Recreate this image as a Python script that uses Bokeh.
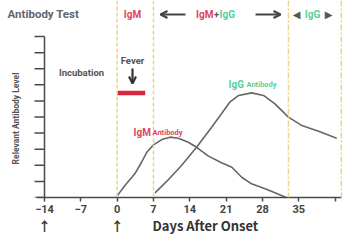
from bokeh.plotting import figure
from bokeh.models import Range1d, FixedTicker, Span, Label, Arrow, OpenHead, LinearAxis
from bokeh.embed import file_html
from bokeh.resources import INLINE

# ---------------- data ----------------
day_ticks = [-14, -7, 0, 7, 14, 21, 28, 35, 42]
day_tick_labels = ["\u221214", "\u22127", "0", "7", "14", "21", "28", "35", ""]
level_ticks = [0, 1, 2, 3, 4, 5, 6, 7, 8, 9, 10]

igm_day = [0.0, 1.5, 3.4, 4.7, 5.7, 7.0, 8.6, 10.2, 11.8, 13.7, 15.3, 17.6, 20.1,
           22.1, 24.0, 25.9, 28.5, 30.4, 32.0, 32.6]
igm_level = [0.1, 0.75, 1.47, 2.19, 2.81, 3.27, 3.60, 3.75, 3.68, 3.43, 3.12, 2.57,
             2.16, 1.88, 1.26, 0.85, 0.54, 0.29, 0.08, 0.0]

igg_day = [7.3, 9.9, 12.4, 15.3, 18.2, 20.1, 21.7, 23.4, 25.9, 28.2, 30.4, 33.0,
           35.6, 38.8, 42.3]
igg_level = [0.29, 1.12, 1.99, 3.12, 4.37, 5.20, 5.92, 6.34, 6.50, 6.34, 5.82, 4.99,
             4.47, 4.12, 3.68]

phase_bounds = [0, 7, 33, 43.2]
fever_start, fever_end, fever_level = 0.0, 5.4, 6.5
marker_days = [-14, 0]          # days marked with an arrow under the axis
axis_title_day = 17

# ---------------- styling ----------------
FONT = "Roboto"
RED = "#e2445c"
GREEN = "#58cf9a"
GRAY = "#555555"
AXIS = "#4a4a4a"
GOLD = "#ecd48a"

W, H = 356, 242
R, B = 13, 45
FW, FH = W - R, H - B          # frame size (frame starts at canvas left/top)
K = 5.19                       # px per day
Y_AXIS_PX = 44                 # where day -14 sits
X0 = -14 - Y_AXIS_PX / K
X1 = X0 + FW / K
Y0, Y1 = 0, 12.24


def sx(px):
    return X0 + px * (X1 - X0) / FW


def sy(py):
    return Y1 - py * (Y1 - Y0) / FH


p = figure(width=W, height=H, x_range=Range1d(X0, X1), y_range=Range1d(Y0, Y1),
           output_backend="svg", toolbar_location=None, x_axis_location=None,
           y_axis_location=None,
           min_border_left=0, min_border_right=R, min_border_top=0, min_border_bottom=B)
p.outline_line_color = None
p.grid.visible = False
p.background_fill_color = "white"
p.border_fill_color = "white"

# x axis
xa = LinearAxis()
xa.ticker = FixedTicker(ticks=day_ticks)
xa.major_label_overrides = {t: s for t, s in zip(day_ticks, day_tick_labels)}
xa.major_tick_out = 4
xa.major_tick_in = 0
xa.minor_tick_line_color = None
xa.axis_line_color = AXIS
xa.axis_line_width = 1.5
xa.major_tick_line_color = AXIS
xa.major_tick_line_width = 1.5
xa.major_label_text_font = FONT
xa.major_label_text_font_style = "bold"
xa.major_label_text_font_size = "11px"
xa.major_label_text_color = "#444444"
xa.major_label_standoff = 3
xa.bounds = (-15.5, phase_bounds[-1])
p.add_layout(xa, "below")

# second row under the axis: onset marker arrows and axis title
xa2 = LinearAxis()
xa2.ticker = FixedTicker(ticks=marker_days + [axis_title_day])
ov = {d: "\u2191" for d in marker_days}
ov[axis_title_day] = "Days After Onset"
xa2.major_label_overrides = ov
xa2.axis_line_color = None
xa2.major_tick_line_color = None
xa2.minor_tick_line_color = None
xa2.major_tick_out = 0
xa2.major_tick_in = 0
xa2.major_label_standoff = 0
xa2.major_label_text_font = "'Noto Sans CJK SC', Roboto"
xa2.major_label_text_font_style = "bold"
xa2.major_label_text_font_size = "13px"
xa2.major_label_text_color = "#333333"
p.add_layout(xa2, "below")

# y axis (unlabelled level scale) drawn through the y scale
tick_len = 10 / K
p.segment(x0=[-14], y0=[level_ticks[0]], x1=[-14], y1=[level_ticks[-1]],
          line_color=AXIS, line_width=1.5)
p.segment(x0=[-14 - tick_len] * len(level_ticks), y0=level_ticks,
          x1=[-14] * len(level_ticks), y1=level_ticks,
          line_color=AXIS, line_width=1.5)

# phase separators
for i, xb in enumerate(phase_bounds):
    p.add_layout(Span(location=xb, dimension="height", line_color=GOLD, line_width=1.5,
                      line_dash="4 2" if i < 2 else "6 2 2 2"))

# curves
p.line(igm_day, igm_level, line_color="#666666", line_width=1.6)
p.line(igg_day, igg_level, line_color="#666666", line_width=1.6)

# fever bar
p.segment(x0=[fever_start], y0=[fever_level], x1=[fever_end], y1=[fever_level],
          line_color="#d7263d", line_width=4.5, line_cap="butt")


def lab(text, px, py, size, color, align="center", baseline="middle", font=FONT,
        style="bold", angle=0.0):
    p.add_layout(Label(x=sx(px), y=sy(py), text=text, text_font=font,
                       text_font_style=style, text_font_size=f"{size}px",
                       text_color=color, text_align=align, text_baseline=baseline,
                       angle=angle))


def arrow(px0, py0, px1, py1, color="#444444", width=2.2, size=7):
    p.add_layout(Arrow(end=OpenHead(size=size, line_color=color, line_width=width),
                       x_start=sx(px0), y_start=sy(py0), x_end=sx(px1), y_end=sy(py1),
                       line_color=color, line_width=width))


# header texts
lab("Antibody Test", 7, 13, 11.5, "#5c6670", align="left")
lab("IgM", 132, 14, 10, RED)
arrow(185, 14, 160, 14)
lab("IgM", 213, 14, 10, RED, align="right")
lab("+", 216, 14, 9, GRAY)
lab("IgG", 219, 14, 10, GREEN, align="left")
arrow(255, 14, 280, 14)
lab("\u25c0", 296, 14, 10, GRAY, font="DejaVu Sans", style="normal")
lab("IgG", 312, 14, 10, GREEN)
lab("\u25b6", 328, 14, 10, GRAY, font="DejaVu Sans", style="normal")

# annotations in plot
lab("Incubation", 81, 72, 9.5, GRAY)
lab("Fever", 132, 60, 9.5, GRAY)
arrow(132, 68, 132, 83, color="#333333")
lab("IgM", 133, 132, 10, RED, align="left", baseline="alphabetic")
lab("Antibody", 152, 132, 7.5, RED, align="left", baseline="alphabetic")
lab("IgG", 228, 84, 10, GREEN, align="left", baseline="alphabetic")
lab("Antibody", 246, 84, 7.5, GREEN, align="left", baseline="alphabetic")

# vertical axis title
lab("Relevant Antibody Level", 15, 118, 8.5, GRAY, angle=1.5707963)

open("out.html", "w").write(file_html(p, INLINE))
